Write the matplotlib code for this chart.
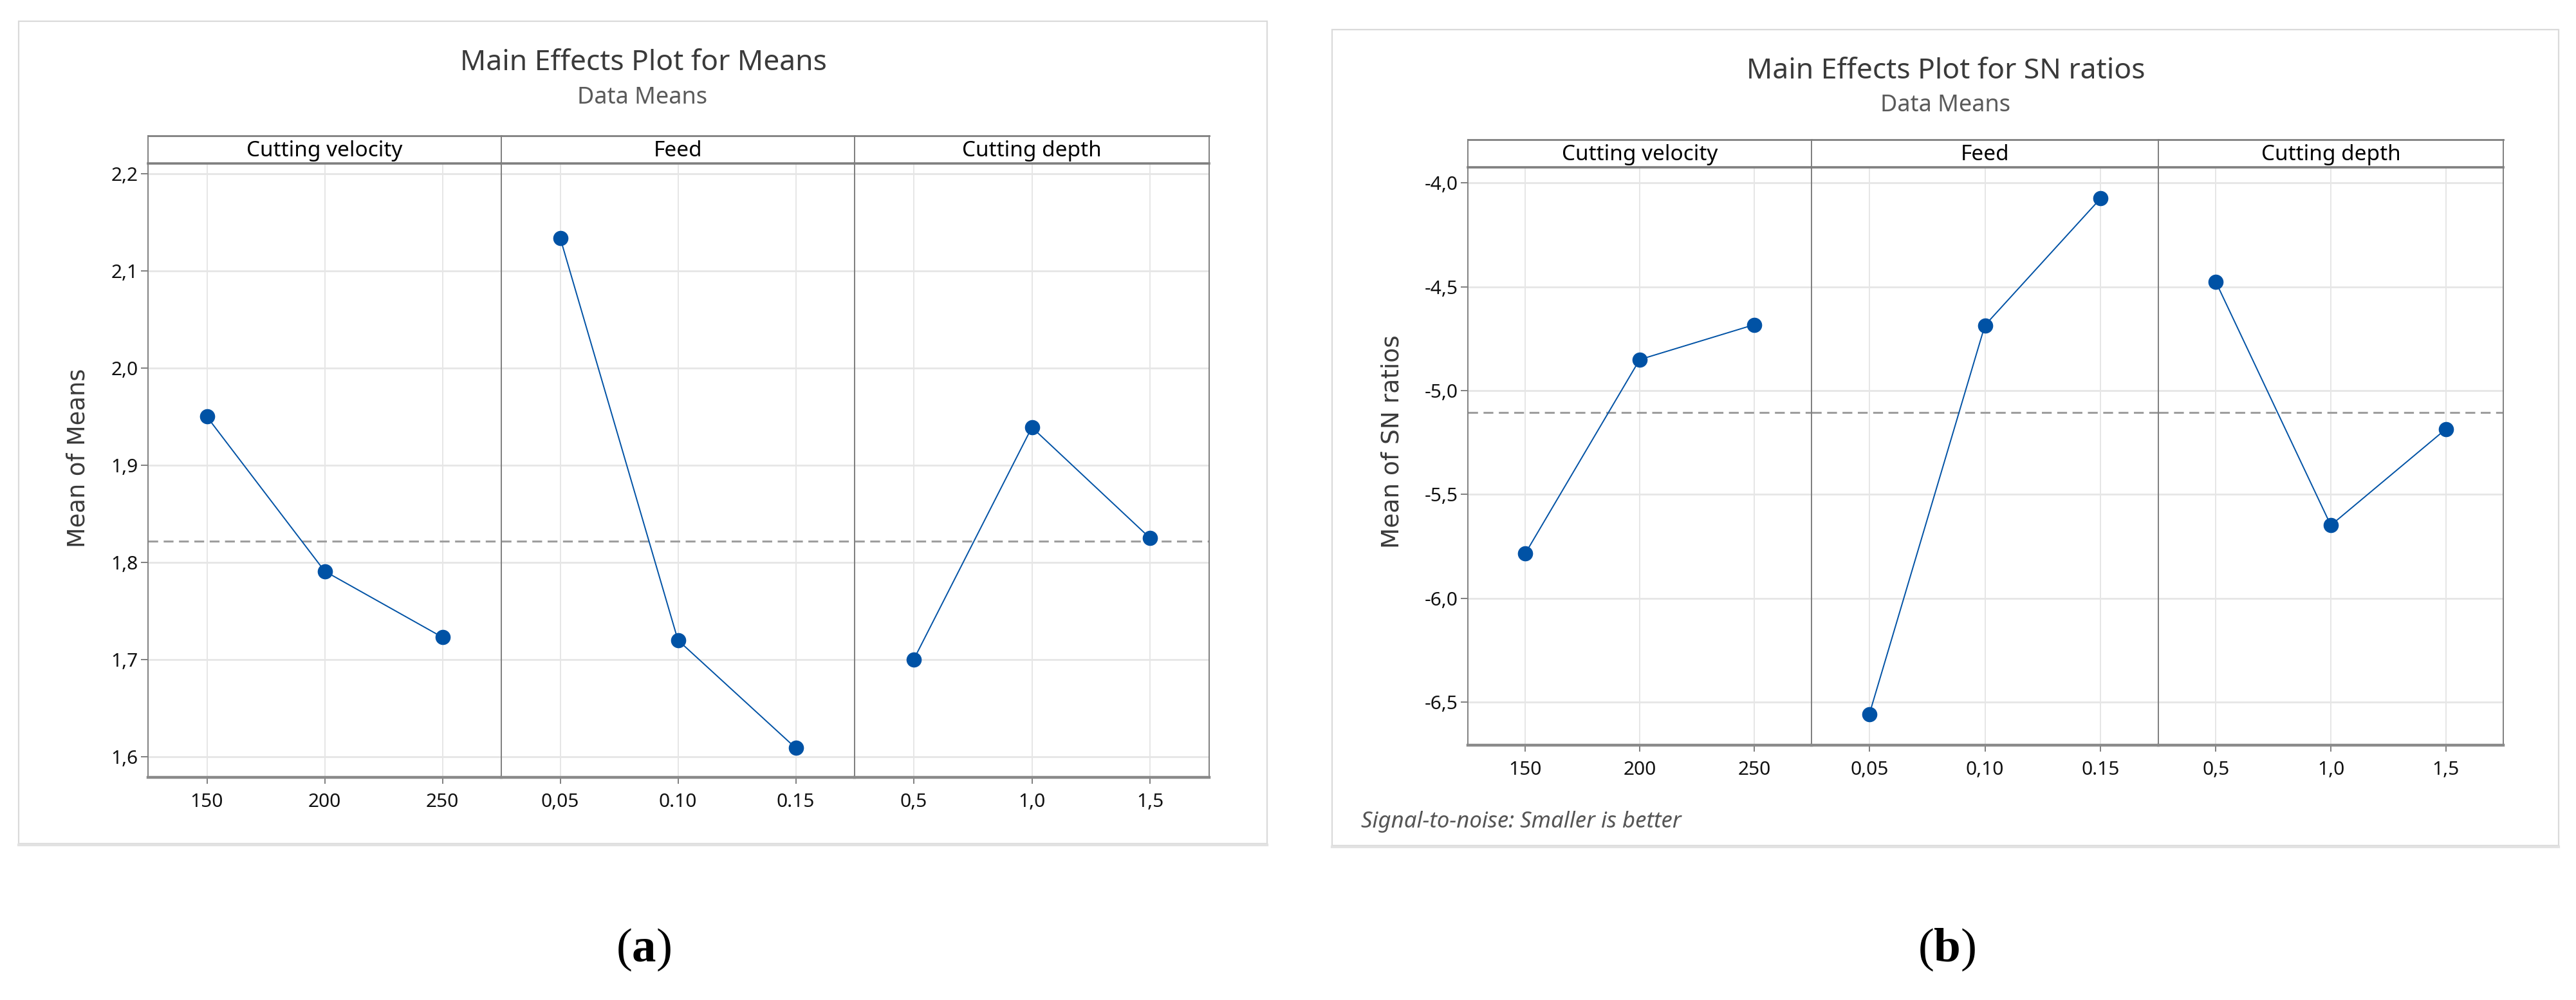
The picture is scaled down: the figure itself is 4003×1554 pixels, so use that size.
import matplotlib
matplotlib.use("Agg")
import matplotlib.pyplot as plt
from matplotlib.patches import Rectangle
from matplotlib.lines import Line2D

# ---------------- data ----------------
factors = ["Cutting velocity", "Feed", "Cutting depth"]
levels_a = [["150", "200", "250"], ["0,05", "0.10", "0.15"], ["0,5", "1,0", "1,5"]]
levels_b = [["150", "200", "250"], ["0,05", "0,10", "0.15"], ["0,5", "1,0", "1,5"]]

means_cv = [1.950, 1.791, 1.723]
means_feed = [2.134, 1.720, 1.609]
means_cd = [1.700, 1.939, 1.825]
means_grand = 1.822

sn_cv = [-5.786, -4.851, -4.683]
sn_feed = [-6.559, -4.686, -4.075]
sn_cd = [-4.477, -5.649, -5.186]
sn_grand = -5.107

yticks_a = [1.6, 1.7, 1.8, 1.9, 2.0, 2.1, 2.2]
yticklabels_a = ["1,6", "1,7", "1,8", "1,9", "2,0", "2,1", "2,2"]
yticks_b = [-6.5, -6.0, -5.5, -5.0, -4.5, -4.0]
yticklabels_b = ["-6,5", "-6,0", "-5,5", "-5,0", "-4,5", "-4,0"]

# ---------------- style ----------------
W, H = 4003, 1554
DPI = 100
FONT = "Noto Sans"
BLUE = "#0052a5"
SPINE = "#7f7f7f"
GRID = "#e6e6e6"

fig = plt.figure(figsize=(W / DPI, H / DPI), dpi=DPI)
fig.patch.set_facecolor("white")


def rect(x0, y0, x1, y1):
    return [x0 / W, 1 - y1 / H, (x1 - x0) / W, (y1 - y0) / H]


def fx(x):
    return x / W


def fy(y):
    return 1 - y / H


def draw_chart(bounds, strip_top, plot_top, plot_bottom, series, levels,
               grand, yticks, yticklabels, ylim):
    axes = []
    for i in range(3):
        x0, x1 = bounds[i], bounds[i + 1]
        ax = fig.add_axes(rect(x0, plot_top, x1, plot_bottom))
        ax.set_xlim(0.5, 3.5)
        ax.set_ylim(*ylim)
        ax.set_yticks(yticks)
        ax.set_xticks([1, 2, 3])
        ax.set_xticklabels(levels[i], fontfamily=FONT, fontsize=21.5, color="#111111")
        ax.grid(True, axis="y", color=GRID, lw=2.0, zorder=0)
        ax.grid(True, axis="x", color=GRID, lw=1.4, zorder=0)
        ax.set_axisbelow(True)
        for s in ["left", "right"]:
            ax.spines[s].set_color(SPINE)
            ax.spines[s].set_linewidth(1.4)
        ax.spines["top"].set_visible(False)
        ax.spines["bottom"].set_color("#8a8a8a")
        ax.spines["bottom"].set_linewidth(3.2)
        ax.tick_params(axis="x", length=7, width=1.4, color=SPINE, pad=10)
        if i == 0:
            ax.set_yticklabels(yticklabels, fontfamily=FONT, fontsize=21.5, color="#111111")
            ax.tick_params(axis="y", length=8, width=1.4, color=SPINE, pad=3)
        else:
            ax.tick_params(axis="y", left=False, labelleft=False)
        ax.axhline(grand, color="#9e9e9e", lw=2.2, ls=(0, (5, 2.8)), zorder=2)
        ax.plot([1, 2, 3], series[i], color=BLUE, lw=1.4, marker="o",
                markersize=16, markerfacecolor=BLUE, markeredgecolor=BLUE, zorder=3)
        # strip
        sax = fig.add_axes(rect(x0, strip_top, x1, plot_top))
        sax.set_xticks([])
        sax.set_yticks([])
        sax.set_facecolor("white")
        for s in ["left", "right"]:
            sax.spines[s].set_color(SPINE)
            sax.spines[s].set_linewidth(1.4)
        sax.spines["top"].set_color(SPINE)
        sax.spines["top"].set_linewidth(2.0)
        sax.spines["bottom"].set_color(SPINE)
        sax.spines["bottom"].set_linewidth(2.6)
        sax.text(0.5, 0.45, factors[i], transform=sax.transAxes, ha="center",
                 va="center", fontfamily=FONT, fontsize=24, color="black")
        axes.append(ax)
    return axes


# ---------- chart (a) ----------
draw_chart([230, 779, 1328, 1879], 211, 254, 1208,
           [means_cv, means_feed, means_cd], levels_a, means_grand,
           yticks_a, yticklabels_a, (1.5788, 2.2106))
# ---------- chart (b) ----------
draw_chart([2281, 2815, 3354, 3890], 217, 260, 1158,
           [sn_cv, sn_feed, sn_cd], levels_b, sn_grand,
           yticks_b, yticklabels_b, (-6.708, -3.925))

# outer frames
for (x0, y0, x1, y1) in [(29, 33, 1969, 1311), (2070, 46, 3976, 1314)]:
    fig.patches.append(Rectangle((fx(x0), fy(y1)), fx(x1 - x0), (y1 - y0) / H,
                                 transform=fig.transFigure, fill=False,
                                 edgecolor="#dadada", lw=1.6))
    fig.lines.append(Line2D([fx(x0), fx(x1)], [fy(y1 + 2), fy(y1 + 2)],
                            transform=fig.transFigure, color="#e2e2e2", lw=3))

# titles
fig.text(fx(1000), fy(98), "Main Effects Plot for Means", ha="center", va="center",
         fontfamily=FONT, fontsize=32, color="#3a3a3a")
fig.text(fx(998), fy(152), "Data Means", ha="center", va="center",
         fontfamily=FONT, fontsize=26, color="#5a5a5a")
fig.text(fx(3024), fy(111), "Main Effects Plot for SN ratios", ha="center", va="center",
         fontfamily=FONT, fontsize=32, color="#3a3a3a")
fig.text(fx(3023), fy(164), "Data Means", ha="center", va="center",
         fontfamily=FONT, fontsize=26, color="#5a5a5a")

# y labels
fig.text(fx(121), fy(712), "Mean of Means", rotation=90, ha="center", va="center",
         fontfamily="DejaVu Sans", fontsize=26.5, color="#3a3a3a")
fig.text(fx(2163), fy(686), "Mean of SN ratios", rotation=90, ha="center", va="center",
         fontfamily="DejaVu Sans", fontsize=27, color="#3a3a3a")

# footnote
fig.text(fx(2115), fy(1277), "Signal-to-noise: Smaller is better", ha="left", va="center",
         fontfamily=FONT, fontstyle="italic", fontsize=25, color="#555555")

# panel labels
plt.rcParams["mathtext.fontset"] = "custom"
plt.rcParams["mathtext.bf"] = "Liberation Serif:bold"
plt.rcParams["mathtext.rm"] = "Liberation Serif"
for xc, lab in [(1000, "a"), (3025, "b")]:
    fig.text(fx(xc), fy(1476), "(" + r"$\mathbf{" + lab + "}$" + ")", ha="center",
             va="center", fontfamily="Liberation Serif", fontsize=54, color="black")

fig.savefig("out.png", dpi=DPI, facecolor="white")
